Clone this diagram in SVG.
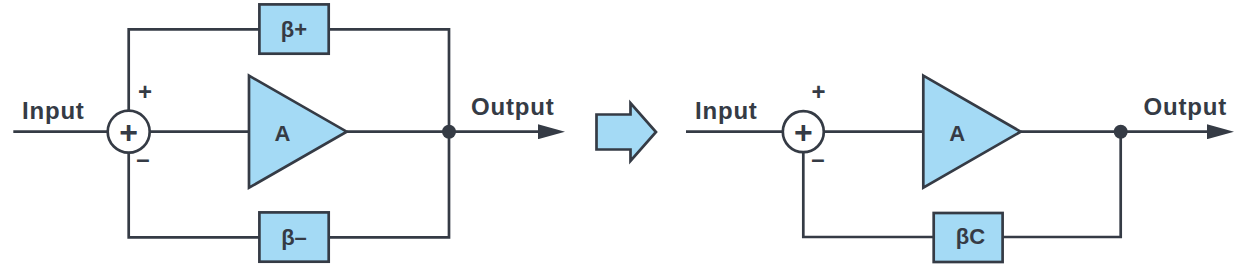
<svg xmlns="http://www.w3.org/2000/svg" width="1248" height="269" viewBox="0 0 1248 269">
  <style>
    .ln { fill: none; stroke: #353b45; stroke-width: 2.7; stroke-linejoin: miter; }
    .blk { fill: #a4daf5; stroke: #353b45; stroke-width: 2.7; stroke-linejoin: miter; }
    .sum { fill: #ffffff; stroke: #353b45; stroke-width: 2.7; }
    .dot { fill: #353b45; }
    .t { font-family: "Liberation Sans", Arial, sans-serif; font-weight: bold; fill: #353b45; }
    .io { font-size: 24px; letter-spacing: 0.8px; }
    .blab { font-size: 22px; text-anchor: middle; }
    .sign { font-size: 24px; text-anchor: middle; }
    .inner { font-size: 32px; text-anchor: middle; }
  </style>
  <defs>
    <marker id="arrow" markerUnits="userSpaceOnUse" markerWidth="27" markerHeight="15" viewBox="0 0 27 15" refX="7" refY="7.5" orient="auto">
      <path d="M0,0 L27,7.5 L0,15 Z" fill="#353b45"/>
    </marker>
  </defs>

  <g id="connectors">
    <path class="ln" d="M13.3,131.7 H107.7"/>
    <path class="ln" d="M149.7,131.7 H249"/>
    <path class="ln" d="M346.7,131.7 H545" marker-end="url(#arrow)"/>
    <path class="ln" d="M128.7,110.7 V29.3 H449 V237.3 H128.7 V152.7"/>
    <path class="ln" d="M686,131.7 H782.8"/>
    <path class="ln" d="M823.8,131.7 H923.3"/>
    <path class="ln" d="M1020.7,131.7 H1214" marker-end="url(#arrow)"/>
    <path class="ln" d="M1120.7,131.7 V237 H803.3 V152.2"/>
  </g>

  <g id="sum1">
    <circle class="sum" cx="128.7" cy="131.7" r="21"/>
    <text class="t inner" x="128.7" y="143">+</text>
  </g>
  <g id="amp1">
    <polygon class="blk" points="249,75.7 346.7,131.7 249,187.7"/>
    <text class="t blab" x="282.5" y="141">A</text>
  </g>
  <g id="beta-plus">
    <rect class="blk" x="259.4" y="4.4" width="69.3" height="49.3"/>
    <text class="t blab" x="294" y="37">β+</text>
  </g>
  <g id="beta-minus">
    <rect class="blk" x="259.4" y="212.4" width="69.3" height="49.3"/>
    <text class="t blab" x="294" y="245">β–</text>
  </g>
  <g id="junction1">
    <circle class="dot" cx="449" cy="131.7" r="7"/>
  </g>
  <g id="labels-left">
    <text class="t io" x="22" y="119">Input</text>
    <text class="t io" x="471" y="115">Output</text>
    <text class="t sign" x="145" y="100">+</text>
    <text class="t sign" x="143" y="167">–</text>
  </g>

  <g id="transform-arrow">
    <polygon class="blk" points="596.5,114.5 630.5,114.5 630.5,103 656,132 630.5,161 630.5,149.5 596.5,149.5"/>
  </g>

  <g id="sum2">
    <circle class="sum" cx="803.3" cy="131.7" r="20.5"/>
    <text class="t inner" x="803.3" y="143">+</text>
  </g>
  <g id="amp2">
    <polygon class="blk" points="923.3,75.7 1020.7,131.7 923.3,187.7"/>
    <text class="t blab" x="957.3" y="141">A</text>
  </g>
  <g id="beta-c">
    <rect class="blk" x="933.7" y="213" width="68.9" height="49"/>
    <text class="t blab" x="970.5" y="244">βC</text>
  </g>
  <g id="junction2">
    <circle class="dot" cx="1120.7" cy="131.7" r="7"/>
  </g>
  <g id="labels-right">
    <text class="t io" x="695" y="119">Input</text>
    <text class="t io" x="1143.5" y="115">Output</text>
    <text class="t sign" x="818.5" y="100">+</text>
    <text class="t sign" x="818" y="167">–</text>
  </g>
</svg>
